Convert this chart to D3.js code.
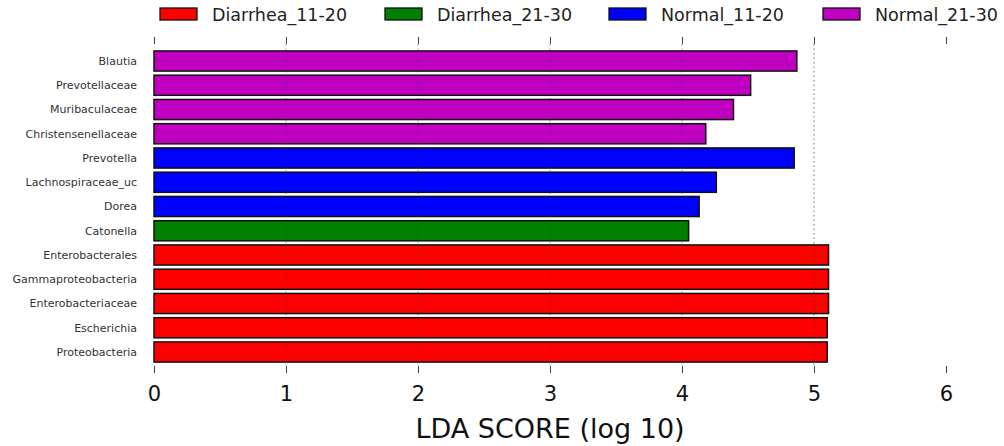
<!DOCTYPE html>
<html>
<head>
<meta charset="utf-8">
<script src="https://cdn.jsdelivr.net/npm/d3@7/dist/d3.min.js"></script>
<style>
  html, body { margin: 0; padding: 0; background: #fff; }
  svg { display: block; font-family: "DejaVu Sans", sans-serif; }
</style>
</head>
<body>
<svg id="chart" width="1004" height="446"></svg>
<script>
// Taxa, top to bottom, with their LDA scores and enriched group
const taxa = ["Blautia", "Prevotellaceae", "Muribaculaceae", "Christensenellaceae",
  "Prevotella", "Lachnospiraceae_uc", "Dorea", "Catonella",
  "Enterobacterales", "Gammaproteobacteria", "Enterobacteriaceae", "Escherichia", "Proteobacteria"];
const ldaScores = [4.87, 4.52, 4.39, 4.18, 4.85, 4.26, 4.13, 4.05, 5.11, 5.11, 5.11, 5.10, 5.10];
const taxonGroups = ["Normal_21-30", "Normal_21-30", "Normal_21-30", "Normal_21-30",
  "Normal_11-20", "Normal_11-20", "Normal_11-20", "Diarrhea_21-30",
  "Diarrhea_11-20", "Diarrhea_11-20", "Diarrhea_11-20", "Diarrhea_11-20", "Diarrhea_11-20"];
const groups = ["Diarrhea_11-20", "Diarrhea_21-30", "Normal_11-20", "Normal_21-30"];
const groupColors = ["#ff0000", "#008000", "#0000ff", "#c000c0"];
const xTicks = [0, 1, 2, 3, 4, 5, 6];
const gridTicks = [1, 2, 3, 4, 5];

const svg = d3.select("#chart");
const plotLeft = 154, plotRight = 946, plotTop = 49, plotBottom = 364;

const x = d3.scaleLinear().domain([0, 6]).range([plotLeft, plotRight]);
const y = d3.scaleBand().domain(taxa).range([plotTop, plotBottom]).paddingInner(0.17).paddingOuter(0.08);
const color = d3.scaleOrdinal().domain(groups).range(groupColors);

// Bars
svg.append("g").selectAll("rect")
  .data(taxa)
  .join("rect")
  .attr("x", x(0))
  .attr("y", d => y(d))
  .attr("width", (d, i) => x(ldaScores[i]) - x(0))
  .attr("height", y.bandwidth())
  .attr("fill", (d, i) => color(taxonGroups[i]))
  .attr("stroke", "#111")
  .attr("stroke-width", 1.5);

// Dotted vertical grid drawn over the bars
svg.append("g").selectAll("line")
  .data(gridTicks)
  .join("line")
  .attr("x1", d => x(d)).attr("x2", d => x(d))
  .attr("y1", 44).attr("y2", 366)
  .attr("stroke", "#333")
  .attr("stroke-width", 1)
  .attr("stroke-dasharray", "1.5,3")
  .attr("opacity", d => d === 5 ? 0.7 : 0.45);

// Top and bottom axes: ticks only on top, numbers at bottom
const topAxis = d3.axisTop(x).tickValues(xTicks).tickSize(7).tickFormat("");
const gTop = svg.append("g").attr("transform", `translate(0,${plotTop - 5})`).call(topAxis);
gTop.select(".domain").remove();
gTop.selectAll(".tick line").attr("stroke", "#444");

const bottomAxis = d3.axisBottom(x).tickValues(xTicks).tickSize(7).tickPadding(13).tickFormat(d3.format("d"));
const gBottom = svg.append("g").attr("transform", `translate(0,${plotBottom + 2})`).call(bottomAxis);
gBottom.select(".domain").remove();
gBottom.selectAll(".tick line").attr("stroke", "#444");
gBottom.selectAll(".tick text")
  .attr("font-family", "DejaVu Sans, sans-serif")
  .attr("font-size", 21)
  .attr("fill", "#111");

// Taxon labels
svg.append("g").selectAll("text")
  .data(taxa)
  .join("text")
  .attr("x", 137)
  .attr("y", d => y(d) + y.bandwidth() / 2)
  .attr("dy", "0.35em")
  .attr("text-anchor", "end")
  .attr("font-size", 11)
  .attr("fill", "#333")
  .text(d => d);

// Axis title
svg.append("text")
  .attr("x", (plotLeft + plotRight) / 2)
  .attr("y", 438)
  .attr("text-anchor", "middle")
  .attr("font-size", 27)
  .attr("fill", "#111")
  .text("LDA SCORE (log 10)");

// Legend
const legendX = [160, 385, 609, 823];
const legend = svg.append("g").selectAll("g")
  .data(groups)
  .join("g")
  .attr("transform", (d, i) => `translate(${legendX[i]},0)`);
legend.append("rect")
  .attr("x", 0).attr("y", 8)
  .attr("width", 37).attr("height", 12)
  .attr("fill", d => color(d))
  .attr("stroke", "#111")
  .attr("stroke-width", 1.3);
legend.append("text")
  .attr("x", 52).attr("y", 21)
  .attr("font-size", 17.5)
  .attr("fill", "#222")
  .text(d => d);
</script>
</body>
</html>
